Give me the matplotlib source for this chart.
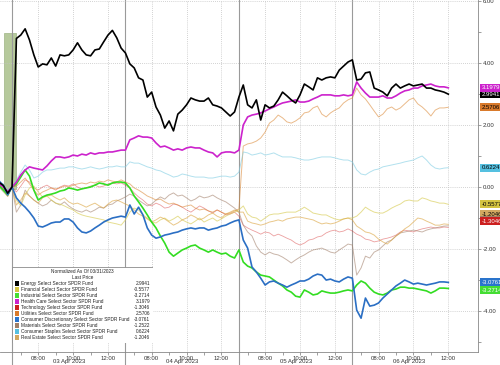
import matplotlib
matplotlib.use("Agg")
import matplotlib.pyplot as plt
import numpy as np
from matplotlib.transforms import blended_transform_factory, offset_copy
from matplotlib.patches import Rectangle

plt.rcParams['font.family'] = ['Liberation Sans', 'DejaVu Sans']

# ---------------- data (15-minute bars, normalized % change vs 03/31/2023 close) ----------------
# first 3 bars: end of 31 Mar session; 4th bar = 31 Mar close (0); then 26 bars/day for 03-05 Apr, 22 bars on 06 Apr
energy = [0.15, 0.05, -0.20, 0.0,
          4.79, 4.90, 5.10, 4.74, 4.26, 3.87, 3.97, 3.94, 4.16, 3.90, 4.26, 4.23, 4.26, 4.42, 4.65, 4.42, 4.26, 4.23, 4.42, 4.45, 4.68, 4.90, 5.05, 4.81, 4.48, 4.32,
          3.97, 3.84, 3.52, 3.45, 2.90, 3.06, 2.58, 2.32, 1.90, 2.13, 1.81, 2.35, 2.48, 2.65, 2.87, 2.81, 2.77, 2.77, 2.87, 2.65, 2.61, 2.55, 2.42, 2.29, 2.42, 2.90,
          3.29, 2.65, 2.55, 2.81, 2.16, 2.65, 2.55, 2.61, 2.81, 3.06, 2.94, 2.81, 2.71, 2.97, 3.32, 3.23, 3.13, 3.52, 3.45, 3.52, 3.55, 3.52, 3.77, 3.90, 4.03, 4.10,
          3.45, 3.48, 3.68, 3.71, 3.19, 3.13, 3.06, 2.94, 3.19, 3.32, 3.19, 3.26, 3.32, 3.26, 3.29, 3.32, 3.19, 3.19, 3.13, 3.10, 3.06, 2.9941]
financial = [0.10, -0.05, -0.20, 0.0,
             -0.42, -0.61, -0.26, -0.03, 0.03, -0.16, -0.32, -0.29, -0.42, -0.52, -0.55, -0.61, -0.68, -0.74, -0.84, -0.90, -0.94, -0.97, -1.00, -1.03, -1.06, -1.13, -1.16, -1.19, -1.23, -1.06,
             -0.81, -0.68, -0.74, -0.90, -1.00, -1.13, -1.16, -1.06, -1.00, -1.10, -1.03, -0.94, -1.06, -1.13, -1.19, -1.10, -1.00, -1.13, -1.06, -1.00, -1.10, -1.03, -0.94, -0.87, -0.81, -0.74,
             -0.61, -0.87, -0.97, -1.00, -1.10, -1.00, -0.90, -0.87, -0.87, -0.84, -0.81, -0.81, -0.81, -0.74, -0.65, -0.74, -0.84, -0.87, -0.90, -0.90, -0.97, -1.03, -1.06, -1.03, -1.00, -1.00,
             -0.94, -0.81, -0.65, -0.74, -0.81, -0.84, -0.84, -0.77, -0.68, -0.61, -0.55, -0.45, -0.42, -0.45, -0.45, -0.35, -0.39, -0.45, -0.48, -0.52, -0.52, -0.5577]
industrial = [0.05, -0.10, -0.25, 0.0,
              0.10, 0.32, 0.55, 0.35, -0.10, -0.42, -0.32, -0.26, -0.23, -0.19, -0.13, -0.10, -0.03, -0.06, -0.10, -0.06, -0.03, 0.00, 0.06, 0.13, 0.10, 0.06, 0.13, 0.16, 0.16, 0.13,
              -0.03, -0.29, -0.48, -0.68, -0.90, -1.13, -1.32, -1.58, -1.81, -2.10, -2.23, -2.13, -2.03, -1.97, -1.90, -1.87, -1.97, -2.03, -2.10, -2.03, -2.10, -2.16, -2.13, -2.23, -2.29, -2.03,
              -2.42, -2.55, -2.61, -2.74, -2.84, -2.87, -2.90, -3.00, -3.10, -3.19, -3.32, -3.39, -3.52, -3.55, -3.32, -3.39, -3.48, -3.45, -3.35, -3.39, -3.42, -3.42, -3.39, -3.35, -3.32, -3.35,
              -3.16, -3.03, -3.10, -3.26, -3.39, -3.45, -3.48, -3.42, -3.32, -3.29, -3.23, -3.23, -3.26, -3.26, -3.29, -3.32, -3.35, -3.42, -3.35, -3.26, -3.26, -3.2714]
health = [0.10, 0.00, -0.15, 0.0,
          0.16, 0.39, 0.55, 0.65, 0.61, 0.58, 0.55, 0.68, 0.84, 0.97, 0.97, 0.94, 0.97, 1.03, 1.00, 1.06, 1.03, 1.10, 1.06, 1.10, 1.10, 1.13, 1.13, 1.16, 1.19, 1.19,
          1.52, 1.58, 1.65, 1.61, 1.61, 1.58, 1.42, 1.29, 1.32, 1.26, 1.19, 1.23, 1.19, 1.26, 1.29, 1.26, 1.26, 1.19, 1.13, 1.10, 0.97, 1.10, 1.13, 1.13, 1.10, 1.19,
          2.00, 2.26, 2.32, 2.35, 2.39, 2.45, 2.52, 2.58, 2.65, 2.71, 2.74, 2.77, 2.81, 2.74, 2.74, 2.77, 2.84, 2.90, 2.97, 2.97, 2.97, 2.94, 2.94, 2.97, 2.94, 2.97,
          3.39, 3.19, 3.03, 2.90, 2.90, 2.90, 2.94, 2.87, 2.87, 2.94, 3.03, 3.10, 3.13, 3.19, 3.19, 3.26, 3.29, 3.32, 3.26, 3.23, 3.23, 3.1979]
technology = [0.10, 0.00, -0.15, 0.0,
              -0.16, 0.03, 0.23, 0.16, -0.03, -0.10, 0.00, 0.06, -0.03, -0.10, 0.00, 0.06, 0.03, 0.10, 0.00, -0.06, -0.03, 0.03, 0.06, 0.00, 0.03, 0.10, 0.13, 0.10, 0.13, 0.06,
              -0.03, -0.19, -0.32, -0.42, -0.55, -0.61, -0.52, -0.58, -0.68, -0.65, -0.55, -0.58, -0.65, -0.74, -0.81, -0.71, -0.61, -0.68, -0.77, -0.84, -0.74, -0.81, -0.90, -0.87, -0.81, -0.94,
              -1.23, -1.32, -1.39, -1.45, -1.52, -1.45, -1.48, -1.58, -1.52, -1.58, -1.65, -1.71, -1.81, -1.87, -1.81, -1.71, -1.68, -1.61, -1.58, -1.48, -1.42, -1.39, -1.45, -1.42, -1.35, -1.42,
              -1.52, -1.58, -1.68, -1.71, -1.77, -1.74, -1.68, -1.65, -1.61, -1.55, -1.45, -1.39, -1.42, -1.45, -1.39, -1.35, -1.32, -1.29, -1.32, -1.32, -1.29, -1.3046]
utilities = [0.05, -0.05, -0.20, 0.0,
             0.03, 0.16, 0.29, 0.10, -0.10, -0.26, -0.16, -0.10, -0.03, -0.06, -0.03, 0.03, 0.00, 0.06, 0.10, 0.13, 0.10, 0.16, 0.13, 0.19, 0.16, 0.23, 0.19, 0.16, 0.23, 0.16,
             0.10, -0.03, -0.10, -0.19, -0.29, -0.35, -0.42, -0.39, -0.48, -0.55, -0.52, -0.58, -0.65, -0.61, -0.58, -0.68, -0.74, -0.71, -0.77, -0.81, -0.74, -0.81, -0.87, -0.84, -0.77, -0.71,
             1.32, 1.39, 1.42, 1.48, 1.58, 1.77, 2.06, 2.16, 2.32, 2.23, 2.10, 2.06, 2.13, 2.23, 2.39, 2.42, 2.55, 2.61, 2.35, 2.26, 2.39, 2.48, 2.55, 2.71, 2.81, 2.87,
             3.19, 2.97, 2.84, 2.65, 2.45, 2.26, 2.35, 2.52, 2.58, 2.48, 2.55, 2.68, 2.81, 2.87, 2.68, 2.58, 2.45, 2.29, 2.48, 2.55, 2.55, 2.5706]
cons_disc = [0.20, 0.05, -0.25, 0.0,
             -0.35, -0.52, -0.65, -0.81, -1.00, -1.26, -1.29, -1.23, -1.16, -1.13, -1.13, -1.03, -1.03, -1.13, -1.32, -1.45, -1.48, -1.42, -1.32, -1.23, -1.13, -1.06, -1.00, -0.97, -0.94, -0.97,
             -0.58, -0.87, -0.65, -0.90, -1.32, -1.55, -1.65, -1.61, -1.55, -1.52, -1.48, -1.45, -1.39, -1.35, -1.32, -1.35, -1.32, -1.32, -1.39, -1.35, -1.32, -1.26, -1.23, -1.16, -1.10, -1.06,
             -1.71, -1.97, -2.58, -2.74, -2.94, -3.16, -3.06, -3.03, -3.10, -3.16, -3.23, -3.16, -3.10, -3.03, -3.03, -2.97, -2.87, -2.81, -2.84, -3.00, -2.97, -3.03, -3.06, -2.97, -2.90, -2.94,
             -3.97, -4.23, -3.58, -3.84, -3.81, -3.74, -3.58, -3.45, -3.32, -3.19, -3.10, -3.00, -3.06, -3.13, -3.10, -3.13, -3.16, -3.13, -3.10, -3.06, -3.06, -3.0761]
materials = [0.00, -0.15, -0.30, 0.0,
             -0.81, -0.58, -0.10, -0.29, -0.42, -0.52, -0.61, -0.55, -0.42, -0.52, -0.58, -0.48, -0.61, -0.71, -0.77, -0.81, -0.74, -0.81, -0.74, -0.65, -0.68, -0.58, -0.55, -0.45, -0.39, -0.32,
             -0.23, -0.29, -0.42, -0.52, -0.61, -0.55, -0.42, -0.32, -0.39, -0.26, -0.19, -0.29, -0.26, -0.35, -0.45, -0.39, -0.29, -0.35, -0.32, -0.26, -0.35, -0.42, -0.48, -0.58, -0.68, -0.81,
             -1.23, -1.45, -1.58, -1.90, -2.10, -2.19, -2.10, -2.16, -2.19, -2.26, -2.35, -2.45, -2.35, -2.26, -2.19, -2.10, -2.03, -2.00, -1.97, -2.03, -2.10, -2.13, -2.03, -1.94, -1.84, -1.87,
             -2.84, -2.61, -2.23, -2.29, -2.10, -2.03, -1.90, -1.77, -1.71, -1.58, -1.48, -1.45, -1.42, -1.39, -1.42, -1.45, -1.39, -1.35, -1.32, -1.29, -1.26, -1.2522]
staples = [0.15, 0.10, -0.10, 0.0,
           0.23, 0.48, 0.71, 0.55, 0.29, 0.35, 0.48, 0.55, 0.55, 0.58, 0.61, 0.61, 0.65, 0.65, 0.61, 0.58, 0.61, 0.65, 0.61, 0.58, 0.61, 0.65, 0.65, 0.68, 0.65, 0.65,
           0.81, 0.77, 0.77, 0.71, 0.65, 0.61, 0.55, 0.52, 0.45, 0.39, 0.32, 0.35, 0.42, 0.39, 0.35, 0.32, 0.32, 0.32, 0.29, 0.29, 0.32, 0.35, 0.35, 0.32, 0.35, 0.48,
           1.13, 1.10, 1.03, 1.06, 1.10, 1.03, 1.06, 1.10, 1.03, 0.97, 0.97, 0.97, 0.94, 0.90, 0.87, 0.87, 0.90, 0.94, 0.97, 0.97, 0.97, 0.94, 0.90, 0.87, 0.87, 0.81,
           0.55, 0.42, 0.39, 0.48, 0.55, 0.58, 0.65, 0.68, 0.71, 0.74, 0.77, 0.81, 0.84, 0.87, 0.94, 1.00, 0.87, 0.71, 0.61, 0.58, 0.61, 0.6224]
real_estate = [0.05, -0.10, -0.30, 0.0,
               -0.58, -0.42, -0.19, -0.29, -0.42, -0.52, -0.35, -0.29, -0.26, -0.35, -0.42, -0.35, -0.48, -0.55, -0.52, -0.58, -0.65, -0.58, -0.52, -0.61, -0.68, -0.55, -0.45, -0.42, -0.48, -0.55,
               -0.61, -0.74, -0.87, -0.94, -1.03, -1.13, -1.06, -0.97, -1.03, -1.13, -1.23, -1.16, -1.06, -1.00, -0.90, -0.97, -1.06, -1.00, -0.90, -0.84, -0.94, -1.00, -0.87, -0.81, -0.74, -0.81,
               -0.81, -1.10, -1.16, -1.19, -1.23, -1.19, -1.13, -1.10, -1.06, -1.10, -1.03, -1.00, -0.97, -0.97, -1.00, -1.03, -1.06, -1.13, -1.19, -1.16, -1.19, -1.16, -1.10, -1.03, -1.00, -1.06,
               -1.26, -1.35, -1.45, -1.48, -1.55, -1.68, -1.77, -1.84, -1.71, -1.58, -1.48, -1.35, -1.26, -1.13, -1.00, -1.03, -1.10, -1.16, -1.23, -1.23, -1.19, -1.2046]

names = ["Energy Select Sector SPDR Fund", "Financial Select Sector SPDR Fund",
         "Industrial Select Sector SPDR Fund", "Health Care Select Sector SPDR Fund",
         "Technology Select Sector SPDR Fund", "Utilities Select Sector SPDR Fund",
         "Consumer Discretionary Select Sector SPDR Fund", "Materials Select Sector SPDR Fund",
         "Consumer Staples Select Sector SPDR Fund", "Real Estate Select Sector SPDR Fund"]
series = [energy, financial, industrial, health, technology, utilities, cons_disc, materials, staples, real_estate]
last_values = ["2.9941", "-0.5577", "-3.2714", "3.1979", "-1.3046", "2.5706", "-3.0761", "-1.2522", "0.6224", "-1.2046"]
day_labels = ["03 Apr 2023", "04 Apr 2023", "05 Apr 2023", "06 Apr 2023"]
clock_labels = ["08:00", "10:00", "12:00"]
clock_hours = [8.0, 10.0, 12.0]
session_open_hour = 6.5      # 06:30 local
session_length = 6.5         # hours per session
bar_hours = 0.25             # 15-minute bars
pre_bars = 3                 # bars before 31 Mar close

# ---------------- styles ----------------
colors = ['#000000', '#d8cc55', '#33dd22', '#cc22cc', '#d42a2a', '#d9822b', '#2b6fc4', '#a58470', '#7fcde3', '#dba33c']
legend_colors = ['#000000', '#d4c440', '#44dd33', '#cc22cc', '#cc1f1f', '#d97a2b', '#2a74cc', '#a08068', '#55c0e0', '#d2a860']
widths = [1.2, 0.7, 1.2, 1.2, 0.6, 0.7, 1.2, 0.7, 0.7, 0.7]
alphas = [1.0, 0.65, 1.0, 1.0, 0.45, 0.55, 1.0, 0.6, 0.6, 0.6]
box_txt = ['white', 'black', 'white', 'white', 'white', 'black', 'white', 'white', 'black', 'black']
box_shift_px = [0, 0, -2, 0, 6, 0, 0, 6, 0, 10]
label_order = [9, 7, 1, 8, 5, 0, 3, 4, 6, 2]
zorders = [6, 3, 5, 5, 2, 3, 5, 2, 3, 3]
tick_fs = 4.3
legend_fs = 3.4

W, H = 500, 365
fig = plt.figure(figsize=(W / 100, H / 100), dpi=100)
ax = fig.add_axes([0, 13 / H, 478 / W, 352 / H])

t = (np.arange(len(energy)) - pre_bars) * bar_hours

# highlight band at the weekend gap
ax.add_patch(Rectangle((-0.45, -0.05), 0.68, 5.02, facecolor='#b6c99c', edgecolor='#9fb585', lw=0.5, zorder=1))

for s, c, lw, a, z in zip(series, colors, widths, alphas, zorders):
    ax.plot(t, s, color=c, lw=lw, alpha=a, zorder=z, solid_joinstyle='round')

ax.set_xlim(-0.69, 26.7)
ax.set_ylim(-5.32, 6.03)

# x ticks
major = []
labels = []
for d in range(len(day_labels)):
    for h, lab in zip(clock_hours, clock_labels):
        major.append(d * session_length + (h - session_open_hour))
        labels.append(lab)
minor = [d * session_length + k + 0.5 for d in range(len(day_labels)) for k in range(6)]
ax.set_xticks(major)
ax.set_xticklabels(labels)
ax.set_xticks(minor, minor=True)

ax.yaxis.tick_right()
ax.set_yticks([-4, -2, 0, 2, 4, 6])
ax.set_yticklabels(["-4.00", "-2.00", "0.00", "2.00", "4.00", "6.00"])
ax.set_yticks([-5, -3, -1, 1, 3, 5], minor=True)

ax.tick_params(axis='x', which='both', length=2, width=0.5, color='#777777', pad=0.6, labelsize=tick_fs, labelcolor='#333333')
ax.tick_params(axis='y', which='both', length=2, width=0.5, color='#777777', pad=1.5, labelsize=tick_fs, labelcolor='#333333')

ax.grid(True, which='major', linestyle=(0, (1, 1.5)), color='#c4c4c4', lw=0.6)
for sp in ['top', 'left']:
    ax.spines[sp].set_visible(False)
for sp in ['right', 'bottom']:
    ax.spines[sp].set_color('#888888')
    ax.spines[sp].set_linewidth(0.6)

# day separators
for d in range(len(day_labels)):
    ax.axvline(d * session_length, ymin=-13 / 352, ymax=1, color='#9a9a9a', lw=0.8, clip_on=False, zorder=1.5)

trans = blended_transform_factory(ax.transData, ax.transAxes)
for d, lab in enumerate(day_labels):
    ax.text(d * session_length + session_length / 2, -9.8 / 352, lab, transform=trans, ha='center', va='center',
            fontsize=tick_fs, color='#333333')

# right-hand value boxes
ttrans = blended_transform_factory(ax.transAxes, ax.transData)
for i in label_order:
    tr = offset_copy(ttrans, fig=fig, x=0, y=box_shift_px[i] * 72 / 100, units='points')
    ax.text(1.007, series[i][-1], last_values[i], transform=tr, ha='left', va='center', fontsize=4.3,
            color=box_txt[i], clip_on=False, zorder=10,
            bbox=dict(boxstyle='square,pad=0.25', fc=legend_colors[i], ec='none'))

# legend box
lg = fig.add_axes([12 / W, 1 - 343 / H, 141 / W, 76 / H])
lg.set_xlim(0, 141)
lg.set_ylim(76, 0)
lg.axis('off')
lg.add_patch(Rectangle((0.3, 0.3), 140.4, 75.4, facecolor='white', edgecolor='#8a8a8a', lw=0.6))
lg.text(70.5, 4.8, "Normalized As Of 03/31/2023", ha='center', va='center', fontsize=legend_fs, color='#222222')
lg.text(70.5, 10.3, "Last Price", ha='center', va='center', fontsize=legend_fs, color='#222222')
for i, (nm, val) in enumerate(zip(names, last_values)):
    y = 16.5 + 6 * i
    lg.add_patch(Rectangle((3, y - 2.2), 4.4, 4.4, facecolor=legend_colors[i], edgecolor='none'))
    lg.text(9, y, nm, ha='left', va='center', fontsize=legend_fs, color='#222222')
    lg.text(138, y, val, ha='right', va='center', fontsize=legend_fs, color='#222222')

fig.savefig("out.png", dpi=100)
